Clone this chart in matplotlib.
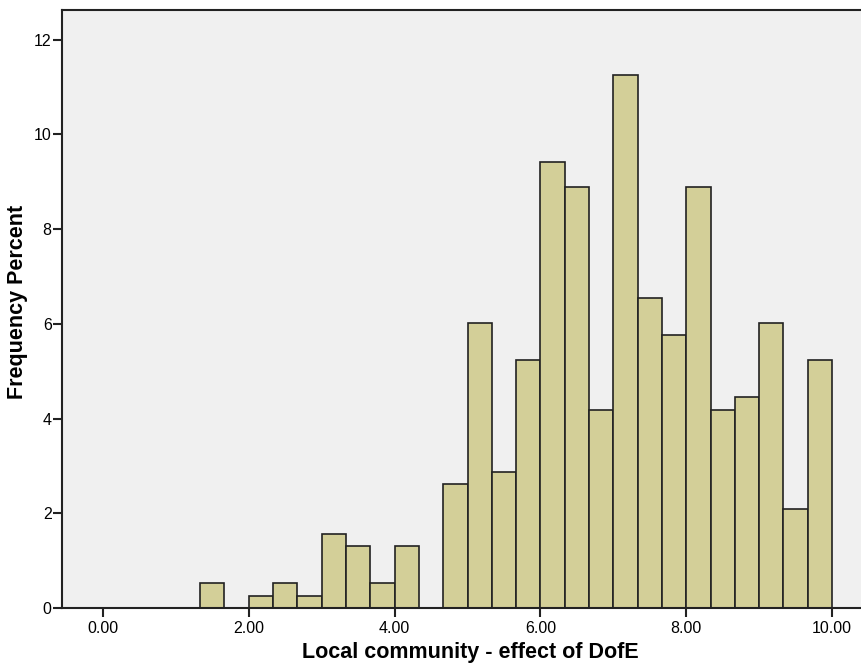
import numpy as np
import matplotlib.pyplot as plt

plt.rcParams["font.family"] = ["Liberation Sans", "DejaVu Sans"]

# percent per bin, 30 bins of width 1/3 from 0 to 10
bin_width = 1.0 / 3.0
percents = [0, 0, 0, 0, 0.52, 0, 0.26, 0.52, 0.26, 1.57,
            1.31, 0.52, 1.31, 0, 2.62, 6.02, 2.88, 5.24, 9.42, 8.90,
            4.19, 11.26, 6.54, 5.76, 8.90, 4.19, 4.45, 6.02, 2.09, 5.24]
bin_left = np.arange(len(percents)) * bin_width
xticks = [0, 2, 4, 6, 8, 10]
yticks = [0, 2, 4, 6, 8, 10, 12]

fig = plt.figure(figsize=(8.62, 6.64), dpi=100)
ax = fig.add_axes([0.072, 0.0843, 0.928, 0.9007])
ax.set_facecolor("#f0f0f0")

mask = np.array(percents) > 0
ax.bar(bin_left[mask], np.array(percents)[mask], width=bin_width, align="edge",
       color="#d3cf98", edgecolor="#222222", linewidth=1.2, zorder=2)

ax.set_xlim(-0.56, 10.41)
ax.set_ylim(0, 12.63)
ax.set_xticks(xticks)
ax.set_xticklabels(["%.2f" % v for v in xticks])
ax.set_yticks(yticks)
ax.tick_params(axis="both", direction="out", length=6.5, width=1.5, labelsize=11.5, color="#222222")
ax.tick_params(axis="x", pad=3)
ax.tick_params(axis="y", pad=1)
for s in ["left", "bottom", "top"]:
    ax.spines[s].set_linewidth(1.5)
    ax.spines[s].set_color("#222222")
ax.spines["right"].set_visible(False)

ax.set_xlabel("Local community - effect of DofE", fontsize=15.5, fontweight="bold", labelpad=4)
ax.set_ylabel("Frequency Percent", fontsize=15.5, fontweight="bold", labelpad=4)
ax.xaxis.label.set_x(0.51)
ax.yaxis.label.set_y(0.512)

fig.savefig("out.png", dpi=100)
